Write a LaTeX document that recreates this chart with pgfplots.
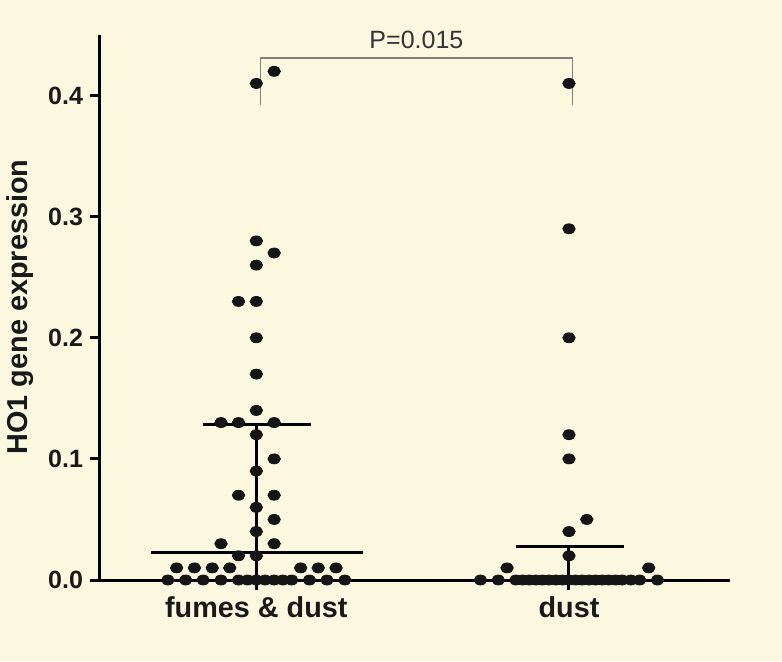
\documentclass[border=0pt]{standalone}
\usepackage{fontspec}
\setmainfont{Liberation Sans}
\usepackage{pgfplots}
\pgfplotsset{compat=1.18}
\definecolor{bg}{HTML}{FCF8E0}
\definecolor{dot}{HTML}{151515}

\begin{document}
\begin{tikzpicture}
\useasboundingbox (-50pt,-40.5pt) rectangle (341pt,290pt);
\fill[bg] (-50pt,-40.5pt) rectangle (341pt,290pt);
\begin{axis}[
  scale only axis,
  width=315pt, height=272.5pt,
  xmin=0.5, xmax=2.515,
  ymin=0, ymax=0.45,
  axis x line*=bottom, axis y line*=left,
  axis line style={line width=1.5pt, black},
  tick align=outside,
  major tick length=5pt,
  tick style={line width=1.5pt, black},
  xtick={1,2},
  xticklabels={fumes \& dust, dust},
  ytick={0,0.1,0.2,0.3,0.4},
  yticklabels={0.0,0.1,0.2,0.3,0.4},
  xticklabel style={font=\fontsize{14.4}{17}\selectfont\bfseries, text=black!90},
  yticklabel style={font=\fontsize{12.5}{15}\selectfont\bfseries, text=black!90},
  ylabel={HO1 gene expression},
  every axis y label/.style={at={(axis description cs:-0.127,0.501)}, rotate=90, anchor=center,
    font=\fontsize{14.4}{17}\selectfont\bfseries, text=black!90},
  clip=false,
]

% median and interquartile bars
\addplot[line width=1.5pt, black] coordinates {(1,0) (1,0.128)};
\addplot[line width=1.5pt, black] coordinates {(0.662,0.023) (1.341,0.023)};
\addplot[line width=1.5pt, black] coordinates {(0.828,0.128) (1.175,0.128)};
\addplot[line width=1.5pt, black] coordinates {(2,0) (2,0.028)};
\addplot[line width=1.5pt, black] coordinates {(1.83,0.028) (2.175,0.028)};

% significance bracket
\addplot[line width=0.6pt, black!50] coordinates {(1.013,0.3926) (1.013,0.431) (2.012,0.431) (2.012,0.3926)};
\node[font=\fontsize{12.5}{15}\selectfont, text=black!80] at (axis cs:1.512,0.446) {P=0.015};

% fumes & dust
\addplot[only marks, mark=*, mark size=2.5pt, color=dot, mark options={xscale=1.25}] coordinates {
  (1.057,0.42) (1.000,0.41) (1.000,0.28) (1.057,0.27) (1.000,0.26)
  (0.943,0.23) (1.000,0.23) (1.000,0.20) (1.000,0.17) (1.000,0.14)
  (0.887,0.13) (0.943,0.13) (1.057,0.13) (1.000,0.12) (1.057,0.10)
  (1.000,0.09) (0.943,0.07) (1.057,0.07) (1.000,0.06) (1.057,0.05)
  (1.000,0.04) (0.887,0.03) (1.057,0.03) (0.943,0.02) (1.000,0.02)
  (0.745,0.01) (0.802,0.01) (0.859,0.01) (0.915,0.01)
  (1.142,0.01) (1.198,0.01) (1.255,0.01)
  (0.717,0) (0.774,0) (0.830,0) (0.887,0) (0.943,0) (0.972,0) (1.000,0)
  (1.028,0) (1.057,0) (1.085,0) (1.113,0) (1.170,0) (1.226,0) (1.283,0)
};

% dust
\addplot[only marks, mark=*, mark size=2.5pt, color=dot, mark options={xscale=1.25}] coordinates {
  (2.000,0.41) (2.000,0.29) (2.000,0.20) (2.000,0.12) (2.000,0.10)
  (2.057,0.05) (2.000,0.04) (2.000,0.02) (1.802,0.01) (2.255,0.01)
  (1.717,0) (1.774,0) (1.830,0) (1.851,0) (1.873,0) (1.894,0) (1.915,0)
  (1.936,0) (1.958,0) (1.979,0) (2.000,0) (2.021,0) (2.042,0) (2.064,0)
  (2.085,0) (2.106,0) (2.127,0) (2.149,0) (2.170,0) (2.198,0) (2.226,0) (2.283,0)
};
\end{axis}
\end{tikzpicture}
\end{document}
